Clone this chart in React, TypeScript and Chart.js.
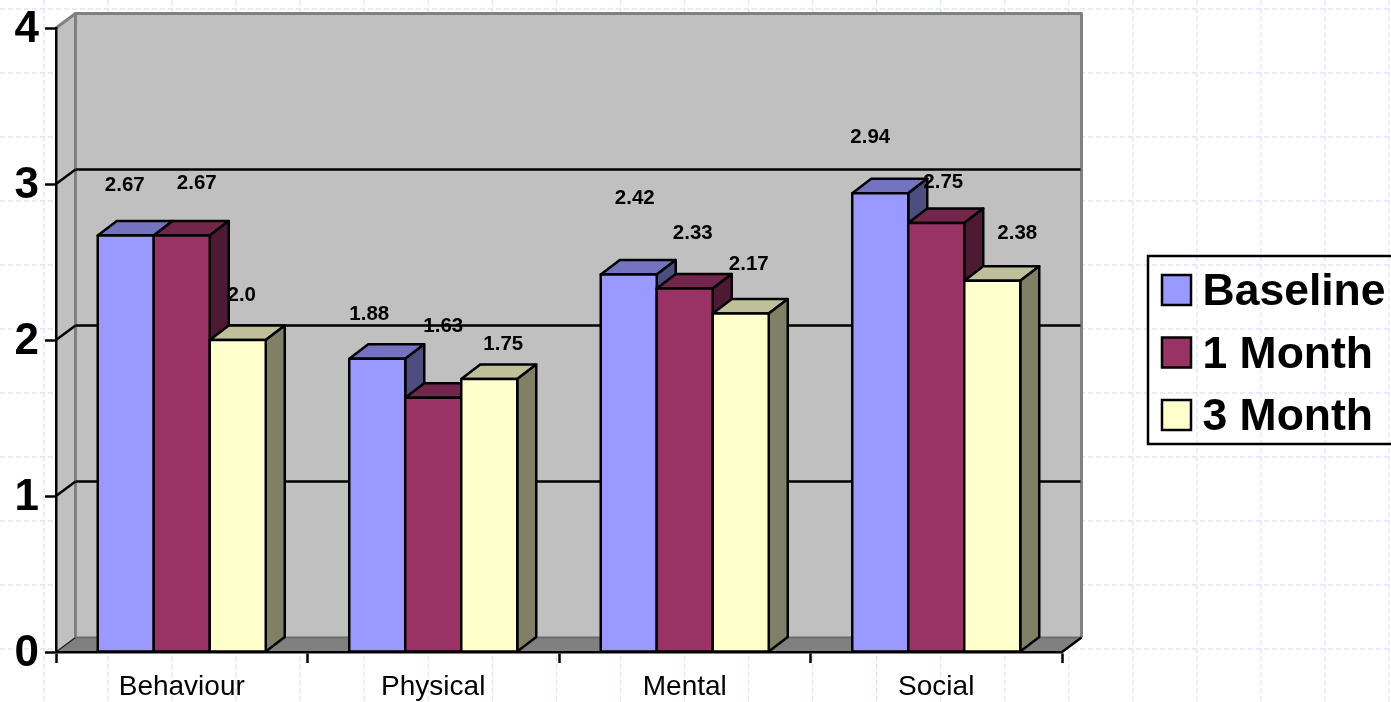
import React, { useEffect, useRef } from "react";
import { Chart, registerables } from "chart.js";

Chart.register(...registerables);

const categories = ["Behaviour", "Physical", "Mental", "Social"];
const baseline = [2.67, 1.88, 2.42, 2.94];
const oneMonth = [2.67, 1.63, 2.33, 2.75];
const threeMonth = [2.0, 1.75, 2.17, 2.38];
const baselineLabels = ["2.67", "1.88", "2.42", "2.94"];
const oneMonthLabels = ["2.67", "1.63", "2.33", "2.75"];
const threeMonthLabels = ["2.0", "1.75", "2.17", "2.38"];
const yTicks = [0, 1, 2, 3, 4];

// Hand placed data-label offsets from each bar's top centre, in px.
const labelOffsets = [
  [[-1, -50.5], [-8, -44.5], [6, -76.5], [-10, -56.5]],
  [[15, -52.5], [10, -71.5], [8, -55.5], [7, -40.5]],
  [[4, -44.5], [14, -34.5], [8, -49.5], [25, -47.5]],
];

const FONT = '"Liberation Sans", Arial, sans-serif';
const DX = 19;
const DY = -14.5;
const WALL_DX = 19.5;

const series = [
  { label: "Baseline", data: baseline, labels: baselineLabels, front: "#9999FF", top: "#7373BF", side: "#4D4D80" },
  { label: "1 Month", data: oneMonth, labels: oneMonthLabels, front: "#993366", top: "#73264C", side: "#4D1A33" },
  { label: "3 Month", data: threeMonth, labels: threeMonthLabels, front: "#FFFFCC", top: "#BFBF99", side: "#808066" },
];

function poly(ctx: CanvasRenderingContext2D, pts: number[][], fill?: string, stroke?: string, lw = 2.5) {
  ctx.beginPath();
  pts.forEach((p, i) => (i ? ctx.lineTo(p[0], p[1]) : ctx.moveTo(p[0], p[1])));
  ctx.closePath();
  if (fill) {
    ctx.fillStyle = fill;
    ctx.fill();
  }
  if (stroke) {
    ctx.strokeStyle = stroke;
    ctx.lineWidth = lw;
    ctx.lineJoin = "round";
    ctx.stroke();
  }
}

function line(ctx: CanvasRenderingContext2D, x1: number, y1: number, x2: number, y2: number, color: string, lw: number) {
  ctx.beginPath();
  ctx.moveTo(x1, y1);
  ctx.lineTo(x2, y2);
  ctx.strokeStyle = color;
  ctx.lineWidth = lw;
  ctx.stroke();
}

const scene3d = {
  id: "scene3d",
  beforeDraw(chart: any) {
    const { ctx, chartArea: a, scales, width, height } = chart;
    ctx.save();
    ctx.fillStyle = "#fff";
    ctx.fillRect(0, 0, width, height);

    // Page-background dashed grid
    ctx.setLineDash([5, 3]);
    for (let x = 44; x < width; x += 64.05) line(ctx, x, 0, x, height, "#dde5fb", 1.3);
    for (let y = 9; y < height; y += 64) line(ctx, 0, y, width, y, "#dde5fb", 1.3);
    ctx.setLineDash([]);

    const y0 = a.bottom;
    const y4 = a.top;
    const bx = a.left + WALL_DX;
    const bxr = a.right + WALL_DX;
    const byTop = y4 + DY;
    const byBot = y0 + DY;

    // Side wall, back wall, floor
    poly(ctx, [[a.left, y4], [bx, byTop], [bx, byBot], [a.left, y0]], "#C0C0C0");
    poly(ctx, [[bx, byTop], [bxr, byTop], [bxr, byBot], [bx, byBot]], "#C0C0C0");
    poly(ctx, [[a.left, y0], [bx, byBot], [bxr, byBot], [a.right, y0]], "#808080");

    line(ctx, bx, byBot, bxr, byBot, "#6c6c6c", 2);
    line(ctx, a.left, y4, bx, byTop, "#808080", 3);
    line(ctx, bx - 1, byTop, bxr + 1, byTop, "#808080", 3);
    line(ctx, bx, byTop, bx, byBot, "#808080", 3);
    line(ctx, bxr, byTop, bxr, byBot, "#808080", 3);

    // Gridlines, taken from the value scale, on the side and back walls
    scales.y.ticks.forEach((t: any) => {
      if (t.value <= 0 || t.value >= 4) return;
      const y = scales.y.getPixelForValue(t.value);
      line(ctx, a.left, y, bx, y + DY, "#000", 2.5);
      line(ctx, bx, y + DY, bxr - 1, y + DY, "#000", 2.5);
    });

    line(ctx, a.left, y0, bx, byBot, "#222", 1.5);
    line(ctx, a.right, y0, bxr, byBot, "#000", 2.5);
    ctx.restore();
  },
  afterDatasetsDraw(chart: any) {
    const { ctx } = chart;
    ctx.save();
    categories.forEach((_, c) => {
      series.forEach((s, d) => {
        const el = chart.getDatasetMeta(d).data[c];
        const half = el.width / 2;
        const l = el.x - half;
        const r = el.x + half;
        const t = el.y;
        const b = el.base;
        poly(ctx, [[l, t], [l + DX, t + DY], [r + DX, t + DY], [r, t]], s.top, "#000");
        poly(ctx, [[r, t], [r + DX, t + DY], [r + DX, b + DY], [r, b]], s.side, "#000");
        poly(ctx, [[l, t], [r, t], [r, b], [l, b]], s.front, "#000");
      });
    });
    ctx.restore();
  },
  afterDraw(chart: any) {
    const { ctx } = chart;
    ctx.save();
    // Data labels
    ctx.fillStyle = "#000";
    ctx.font = `bold 20.5px ${FONT}`;
    ctx.textAlign = "center";
    ctx.textBaseline = "middle";
    series.forEach((s, d) => {
      chart.getDatasetMeta(d).data.forEach((el: any, c: number) => {
        const [ox, oy] = labelOffsets[d][c];
        ctx.fillText(s.labels[c], el.x + ox, el.y + oy);
      });
    });

    // Legend (its right edge runs off the page)
    ctx.strokeStyle = "#000";
    ctx.lineWidth = 2.5;
    ctx.strokeRect(1148, 256, 252, 188);
    ctx.font = `bold 44.5px ${FONT}`;
    ctx.textAlign = "left";
    chart.data.datasets.forEach((ds: any, i: number) => {
      const top = 275 + i * 62.5;
      ctx.fillStyle = ds.backgroundColor;
      ctx.fillRect(1162, top, 29, 30);
      ctx.lineWidth = 2.5;
      ctx.strokeRect(1162, top, 29, 30);
      ctx.fillStyle = "#000";
      ctx.fillText(ds.label, 1202.5, top + 18);
    });
    ctx.restore();
  },
};

export default function App() {
  const ref = useRef<HTMLCanvasElement>(null);
  useEffect(() => {
    const chart = new Chart(ref.current!, {
      type: "bar",
      data: {
        labels: categories,
        datasets: series.map((s) => ({
          label: s.label,
          data: s.data,
          backgroundColor: s.front,
          borderColor: "#000",
          borderWidth: 0,
          barPercentage: 1,
          categoryPercentage: 0.668,
        })),
      },
      options: {
        responsive: false,
        animation: false,
        devicePixelRatio: 1,
        layout: { padding: { left: 0, top: 28, right: 329, bottom: 0 } },
        plugins: { legend: { display: false }, tooltip: { enabled: false }, title: { display: false } },
        scales: {
          x: {
            offset: true,
            afterFit: (s: any) => { s.height = 50; },
            grid: { offset: true, drawOnChartArea: false, drawTicks: true, tickLength: 11, tickColor: "#000", tickWidth: 2.5 },
            border: { color: "#000", width: 2.5 },
            ticks: { color: "#000", font: { family: FONT, size: 28 }, padding: 7, maxRotation: 0 },
          },
          y: {
            min: yTicks[0],
            max: yTicks[yTicks.length - 1],
            afterFit: (s: any) => { s.width = 56; },
            grid: { drawOnChartArea: false, drawTicks: true, tickLength: 11, tickColor: "#000", tickWidth: 2.5 },
            border: { color: "#000", width: 2.5 },
            ticks: { color: "#000", stepSize: 1, labelOffset: 2, font: { family: FONT, size: 44, weight: "bold", lineHeight: 1 }, padding: 6 },
          },
        },
      },
      plugins: [scene3d],
    } as any);
    return () => chart.destroy();
  }, []);
  return (
    <div style={{ position: "absolute", left: 0, top: 0, width: 1391, height: 702, overflow: "hidden" }}>
      <canvas ref={ref} width={1391} height={702} style={{ display: "block" }} />
    </div>
  );
}
